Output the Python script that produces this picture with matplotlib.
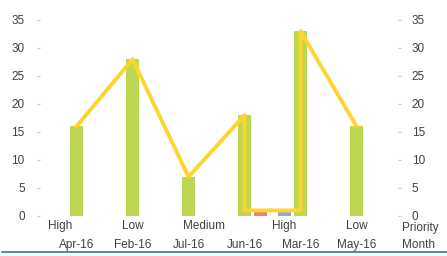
import numpy as np
import matplotlib
matplotlib.use('Agg')
import matplotlib.pyplot as plt
from matplotlib.lines import Line2D

# ---------------------------------------------------------------------------
# Data
# ---------------------------------------------------------------------------
months = ['Apr-16', 'Feb-16', 'Jul-16', 'Jun-16', 'Mar-16', 'May-16']
priorities = ['High', 'Low', 'Medium', 'High', 'Low']
counts = [16, 28, 7, 18, 33, 16]          # green bars

small_red = [0, 0, 0, 0.7, 0, 0]          # tiny red bar beside Jun-16
small_blue = [0, 0, 0, 0, 0.7, 0]         # tiny blue bar beside Mar-16

# yellow line: drops to ~1 between Jun-16 and Mar-16
line_x = [0, 1, 2, 3, 3, 4, 4, 5]
line_y = [16, 28, 7, 18, 1, 1, 33, 16]

# where the priority labels sit (in category units)
priority_pos = [-0.29, 1.01, 2.28, 3.7, 5.0]

GREEN = '#bdd753'
YELLOW = '#fdd530'
RED = '#f4806c'
BLUE = '#91acd0'
TXT = '#404040'

plt.rcParams['font.family'] = ['Liberation Sans', 'DejaVu Sans']

fig = plt.figure(figsize=(4.47, 2.56), dpi=100)
ax = fig.add_axes([40 / 447, 40 / 256, 358 / 447, 196 / 256])

x = np.arange(len(months))
ax.bar(x, counts, width=0.232, color=GREEN, zorder=2)
ax.bar(x + 0.286, small_red, width=0.232, color=RED, zorder=2)
ax.bar(x - 0.286, small_blue, width=0.232, color=BLUE, zorder=2)
ax.plot(line_x, line_y, color=YELLOW, lw=2.8, solid_joinstyle='round', zorder=3)

ax.set_xlim(-0.652, 5.74)
ax.set_ylim(0, 35)
ax.set_yticks(range(0, 36, 5))
ax.set_xticks([])
for s in ax.spines.values():
    s.set_visible(False)
ax.tick_params(axis='y', length=2, width=0.8, color='#c8c8c8',
               labelsize=8.5, labelcolor=TXT, pad=9)

ax2 = ax.twinx()
ax2.set_ylim(0, 35)
ax2.set_yticks(range(0, 36, 5))
for s in ax2.spines.values():
    s.set_visible(False)
ax2.tick_params(axis='y', length=2, width=0.8, color='#c8c8c8',
                labelsize=8.5, labelcolor=TXT, pad=8)

# two-level category labels
trans = ax.get_xaxis_transform()
for p, lab in zip(priority_pos, priorities):
    ax.text(p, -0.05, lab, transform=trans, ha='center', va='center',
            fontsize=8.5, color=TXT)
for i, lab in enumerate(months):
    ax.text(i, -0.15, lab, transform=trans, ha='center', va='center',
            fontsize=8.5, color=TXT)

fig.text(402 / 447, 1 - 228 / 256, 'Priority', ha='left', va='center',
         fontsize=8.5, color=TXT)
fig.text(402 / 447, 1 - 245 / 256, 'Month', ha='left', va='center',
         fontsize=8.5, color=TXT)

# selection border along the bottom
fig.add_artist(Line2D([2 / 447, 1], [4 / 256, 4 / 256], color='#2f75b5', lw=1.2))

fig.savefig('out.png', dpi=100)
